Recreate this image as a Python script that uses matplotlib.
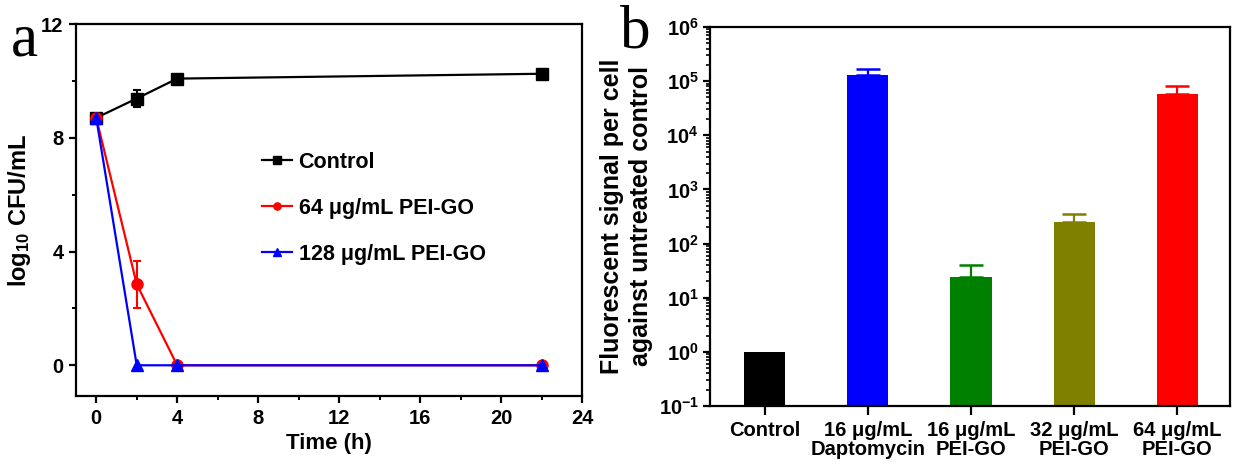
import matplotlib
matplotlib.use("Agg")
import matplotlib.pyplot as plt
import numpy as np
from matplotlib.ticker import MultipleLocator, LogLocator, NullFormatter, FuncFormatter

plt.rcParams['font.family'] = ['Liberation Sans', 'DejaVu Sans']
plt.rcParams['font.weight'] = 'bold'
plt.rcParams['mathtext.fontset'] = 'custom'
plt.rcParams['mathtext.rm'] = 'Liberation Sans:bold'
plt.rcParams['mathtext.bf'] = 'Liberation Sans:bold'
plt.rcParams['mathtext.it'] = 'Liberation Sans:bold:italic'

# ---- panel a: time-kill curves ----
time_h = [0, 2, 4, 22]
control_log = [8.7, 9.38, 10.08, 10.25]
control_err = [0.0, 0.3, 0.0, 0.0]
pei64_log = [8.7, 2.85, 0.0, 0.0]
pei64_err = [0.0, 0.83, 0.0, 0.0]
pei128_log = [8.7, 0.0, 0.0, 0.0]
series_labels = ["Control", "64 \u03bcg/mL PEI-GO", "128 \u03bcg/mL PEI-GO"]

# ---- panel b: fluorescence per cell ----
groups = ["Control", "16 \u03bcg/mL\nDaptomycin", "16 \u03bcg/mL\nPEI-GO",
          "32 \u03bcg/mL\nPEI-GO", "64 \u03bcg/mL\nPEI-GO"]
signal = [1.0, 1.3e5, 24, 255, 5.9e4]
signal_err = [0.0, 0.4e5, 16, 100, 2.3e4]
bar_colors = ["#000000", "#0000ff", "#008000", "#808000", "#ff0000"]

W, H = 1239, 467
fig = plt.figure(figsize=(W / 100, H / 100), dpi=100)


def px_axes(left, top, right, bottom):
    return [left / W, 1 - bottom / H, (right - left) / W, (bottom - top) / H]


ax1 = fig.add_axes(px_axes(76, 24, 582, 396))
lw = 1.6
h_ctrl, = ax1.plot(time_h, control_log, color='black', marker='s', markersize=8,
                   lw=lw, label=series_labels[0])
ax1.errorbar(time_h, control_log, yerr=control_err, fmt='none', ecolor='black',
             capsize=3.2, elinewidth=1.5, capthick=1.5)
h_64, = ax1.plot(time_h, pei64_log, color='red', marker='o', markersize=8,
                 lw=lw, label=series_labels[1])
ax1.errorbar(time_h, pei64_log, yerr=pei64_err, fmt='none', ecolor='red',
             capsize=3.2, elinewidth=1.5, capthick=1.5)
h_128, = ax1.plot(time_h, pei128_log, color='blue', marker='^', markersize=8,
                  lw=lw, label=series_labels[2])
ax1.set_xlim(-1, 24)
ax1.set_ylim(-1.08, 12)
ax1.xaxis.set_major_locator(MultipleLocator(4))
ax1.xaxis.set_minor_locator(MultipleLocator(2))
ax1.yaxis.set_major_locator(MultipleLocator(4))
ax1.yaxis.set_minor_locator(MultipleLocator(2))
ax1.tick_params(which='major', direction='out', length=5, width=1.6, labelsize=14.5, pad=4)
ax1.tick_params(which='minor', direction='out', length=3, width=1.4)
for s in ax1.spines.values():
    s.set_linewidth(1.6)
ax1.set_xlabel("Time (h)", fontsize=16, fontweight='bold', labelpad=4)
ax1.set_ylabel("log$_{10}$ CFU/mL", fontsize=17, fontweight='bold', labelpad=6)
ax1.legend(handles=[h_ctrl, h_64, h_128], loc='upper left',
           bbox_to_anchor=(262 / W, 1 - 152 / H),
           bbox_transform=fig.transFigure, frameon=False, numpoints=1,
           fontsize=15.5, handlelength=1.4, handletextpad=0.3,
           labelspacing=1.15, borderpad=0, borderaxespad=0, markerscale=0.65)

fig.text(11 / W, 1 - 55 / H, "a", fontsize=44, family=['Liberation Serif'],
         fontweight='normal', va='baseline')

# ---- panel b ----
ax2 = fig.add_axes(px_axes(710, 27, 1230, 406))
xpos = np.arange(len(groups))
for i in range(len(groups)):
    err = [[0], [signal_err[i]]] if signal_err[i] > 0 else None
    ax2.bar(xpos[i], signal[i], width=0.4, color=bar_colors[i],
            yerr=err, ecolor=bar_colors[i], capsize=8.5,
            error_kw=dict(elinewidth=1.6, capthick=1.8))
ax2.set_yscale('log')
ax2.set_ylim(0.1, 1e6)
ax2.set_xlim(-0.53, 4.51)
ax2.yaxis.set_major_locator(LogLocator(base=10, numticks=20))
ax2.yaxis.set_major_formatter(FuncFormatter(
    lambda v, p: r'$\mathbf{10^{%d}}$' % int(round(np.log10(v)))))
ax2.yaxis.set_minor_locator(LogLocator(base=10, subs=np.arange(2, 10), numticks=20))
ax2.yaxis.set_minor_formatter(NullFormatter())
ax2.set_xticks(xpos)
ax2.set_xticklabels(groups, fontsize=14.5, fontweight='bold', linespacing=1.0)
ax2.tick_params(axis='y', which='major', direction='out', length=5, width=1.6, labelsize=14.5, pad=3)
ax2.tick_params(axis='y', which='minor', direction='out', length=3, width=1.2)
ax2.tick_params(axis='x', which='major', direction='out', length=6.5, width=1.6, pad=4)
for s in ax2.spines.values():
    s.set_linewidth(1.6)
ax2.set_ylabel("Fluorescent signal per cell\nagainst untreated control",
               fontsize=18, fontweight='bold', labelpad=4, linespacing=1.25)

fig.text(620 / W, 1 - 48 / H, "b", fontsize=44, family=['Liberation Serif'],
         fontweight='normal', va='baseline')

fig.savefig("out.png", dpi=100)
